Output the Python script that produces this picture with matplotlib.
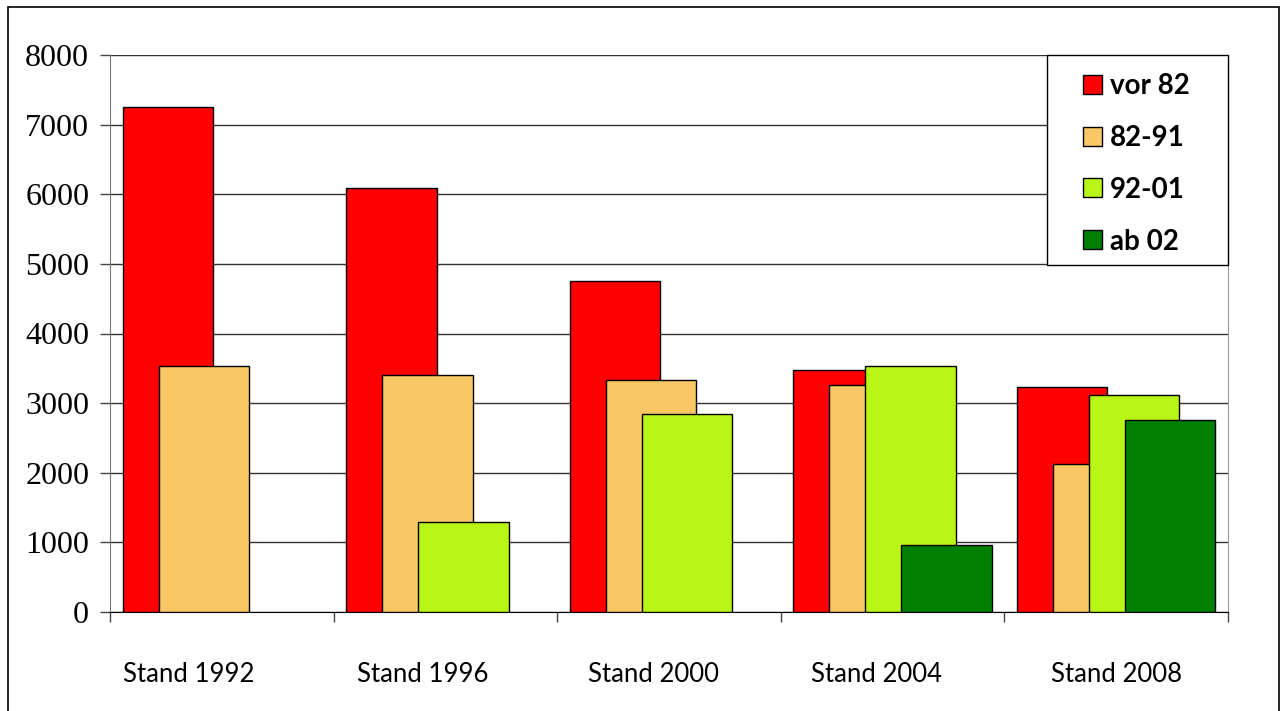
import numpy as np
import matplotlib
matplotlib.use("Agg")
import matplotlib.pyplot as plt
from matplotlib.patches import Rectangle
from matplotlib.transforms import ScaledTranslation

# Bestand nach Baujahr, jeweils zum Stichtag
stands = ["Stand 1992", "Stand 1996", "Stand 2000", "Stand 2004", "Stand 2008"]
series_names = ["vor 82", "82-91", "92-01", "ab 02"]
vor_82 = [7250, 6090, 4760, 3480, 3235]
j82_91 = [3530, 3410, 3330, 3265, 2130]
j92_01 = [np.nan, 1295, 2850, 3535, 3120]
ab_02 = [np.nan, np.nan, np.nan, 965, 2760]
colors = ["#FF0000", "#F9C766", "#B9F515", "#008000"]

fig = plt.figure(figsize=(12.8, 7.11), dpi=100)
ax = fig.add_axes([110 / 1280, 99 / 711, 1118 / 1280, 557 / 711])

width = 0.404
step = 0.161
x = np.arange(len(stands)) + 0.5
for k, (vals, name, c) in enumerate(zip([vor_82, j82_91, j92_01, ab_02], series_names, colors)):
    vals = np.array(vals, dtype=float)
    ok = ~np.isnan(vals)
    pos = x + (k - 1.5) * step
    ax.bar(pos[ok], vals[ok], width=width, color=c, edgecolor="black",
           linewidth=1, label=name, zorder=3)

ax.set_xlim(0, len(stands))
ax.set_ylim(0, 8000)
ax.set_yticks(range(0, 8001, 1000))
ax.yaxis.grid(True, color="#333333", linewidth=1, zorder=0)
ax.tick_params(axis="y", length=7, width=1, color="#444444", pad=8,
               labelsize=23, labelfontfamily="Liberation Serif")

ax.set_xticks(range(len(stands) + 1))
ax.set_xticklabels([])
ax.set_xticks(x, minor=True)
ax.set_xticklabels(stands, minor=True, fontsize=18.5, fontfamily="Lato")
ax.tick_params(axis="x", which="major", length=7, width=1, color="#444444")
ax.tick_params(axis="x", which="minor", length=0, pad=36)
# Kategorienbeschriftungen sitzen leicht links von der Gruppenmitte
shifts_px = [-33, -23, -16, -16, 0]
for lbl, dx in zip(ax.get_xticklabels(minor=True), shifts_px):
    lbl.set_transform(lbl.get_transform() + ScaledTranslation(dx / 100, 0, fig.dpi_scale_trans))

ax.spines["top"].set_visible(False)
ax.spines["left"].set_color("#777777")
ax.spines["right"].set_color("#999999")
ax.spines["bottom"].set_color("black")

# Legende: weißer Kasten mit schwarzem Rand oben rechts
box_left = (1047 - 110) / 1118
box_bottom = (612 - 265) / 557
ax.add_patch(Rectangle((box_left, box_bottom), 1 - box_left, 1 - box_bottom,
                       transform=ax.transAxes, facecolor="white",
                       edgecolor="black", linewidth=1, zorder=4, clip_on=False))
leg = ax.legend(loc="upper left", bbox_to_anchor=((1083 - 110) / 1118, 1 - 18 / 557),
                frameon=False,
                prop={"family": "Lato", "weight": "bold", "size": 20},
                handlelength=0.68, handleheight=0.68, handletextpad=0.3,
                labelspacing=0.93, borderpad=0, borderaxespad=0)
leg.set_zorder(5)

# Rahmen um das ganze Diagramm
fig.patches.append(Rectangle((8 / 1280, -0.01), 1271 / 1280, 704 / 711 + 0.01,
                             transform=fig.transFigure, fill=False,
                             edgecolor="black", linewidth=1.2))

fig.savefig("out.png", dpi=100)
